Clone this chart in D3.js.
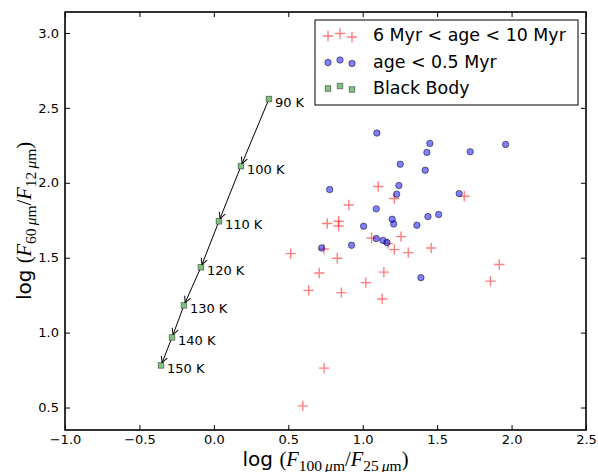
<!DOCTYPE html>
<html>
<head>
<meta charset="utf-8">
<script src="https://cdn.jsdelivr.net/npm/d3@7"></script>
<style>
  html, body { margin: 0; padding: 0; background: #fff; }
  svg { display: block; }
</style>
</head>
<body>
<svg id="chart" width="598" height="472"></svg>
<script>
// ---------------- data ----------------
const xTicks = [-1.0, -0.5, 0.0, 0.5, 1.0, 1.5, 2.0, 2.5];
const yTicks = [0.5, 1.0, 1.5, 2.0, 2.5, 3.0];

// 6 Myr < age < 10 Myr (red crosses)
const oldX = [1.104, 1.212, 1.682, 0.907, 0.762, 0.838, 0.838, 1.060, 1.257, 1.169, 1.212, 1.306, 1.460,
              0.739, 0.516, 0.829, 0.708, 1.142, 1.021, 0.637, 0.857, 1.131, 1.917, 1.858, 0.741, 0.598];
const oldY = [1.975, 1.895, 1.910, 1.852, 1.728, 1.743, 1.712, 1.632, 1.641, 1.594, 1.554, 1.534, 1.565,
              1.558, 1.527, 1.496, 1.398, 1.404, 1.334, 1.282, 1.267, 1.224, 1.455, 1.344, 0.763, 0.511];

// age < 0.5 Myr (blue circles)
const youngX = [1.095, 1.451, 1.431, 1.722, 1.960, 1.252, 1.420, 1.243, 0.778, 1.228, 1.648, 1.091,
                1.198, 1.208, 1.006, 1.438, 1.510, 1.364, 1.091, 1.136, 1.163, 0.724, 0.925, 1.391];
const youngY = [2.332, 2.263, 2.203, 2.207, 2.256, 2.124, 2.084, 1.982, 1.955, 1.924, 1.928, 1.826,
                1.757, 1.725, 1.710, 1.775, 1.788, 1.717, 1.628, 1.616, 1.601, 1.565, 1.583, 1.367];

// Black body track
const bbLabels = ["90 K", "100 K", "110 K", "120 K", "130 K", "140 K", "150 K"];
const bbX = [0.370, 0.182, 0.034, -0.087, -0.201, -0.281, -0.355];
const bbY = [2.559, 2.111, 1.743, 1.436, 1.182, 0.968, 0.781];

const legendLabels = ["6 Myr < age < 10 Myr", "age < 0.5 Myr", "Black Body"];

// ---------------- layout ----------------
const W = 598, H = 472;
const L = 65, R = 586, T = 12, B = 430;
const svg = d3.select("#chart");
const x = d3.scaleLinear().domain([-1, 2.5]).range([L, R]);
const y = d3.scaleLinear().domain([0.35, 3.14]).range([B, T]);

const fmt = d3.format(".1f");
const tickFont = "DejaVu Sans, sans-serif";

// axes
function styleAxis(g) {
  g.select(".domain").remove();
  g.selectAll(".tick line").attr("stroke", "#000").attr("stroke-width", 1);
  g.selectAll(".tick text").attr("font-family", tickFont).attr("font-size", 13).attr("fill", "#000");
}
svg.append("g").attr("transform", `translate(0,${B})`)
  .call(d3.axisBottom(x).tickValues(xTicks).tickFormat(fmt).tickSizeInner(-5).tickSizeOuter(0).tickPadding(5))
  .call(styleAxis);
svg.append("g").attr("transform", `translate(0,${T})`)
  .call(d3.axisTop(x).tickValues(xTicks).tickFormat("").tickSizeInner(-5).tickSizeOuter(0))
  .call(styleAxis);
svg.append("g").attr("transform", `translate(${L},0)`)
  .call(d3.axisLeft(y).tickValues(yTicks).tickFormat(fmt).tickSizeInner(-5).tickSizeOuter(0).tickPadding(6))
  .call(styleAxis);
svg.append("g").attr("transform", `translate(${R},0)`)
  .call(d3.axisRight(y).tickValues(yTicks).tickFormat("").tickSizeInner(-5).tickSizeOuter(0))
  .call(styleAxis);

// frame
svg.append("rect").attr("x", L).attr("y", T).attr("width", R - L).attr("height", B - T)
  .attr("fill", "none").attr("stroke", "#000").attr("stroke-width", 1.6);

// ---------------- marks ----------------
const plot = svg.append("g");
const crossPath = "M-5.2,0H5.2M0,-5.2V5.2";

function drawCross(g, cx, cy) {
  g.append("path").attr("d", crossPath).attr("transform", `translate(${cx},${cy})`)
    .attr("stroke", "red").attr("stroke-opacity", 0.5).attr("stroke-width", 1.4).attr("fill", "none");
}
function drawCircle(g, cx, cy) {
  g.append("circle").attr("cx", cx).attr("cy", cy).attr("r", 3.2)
    .attr("fill", "blue").attr("fill-opacity", 0.5)
    .attr("stroke", "#000").attr("stroke-opacity", 0.5).attr("stroke-width", 1);
}
function drawSquare(g, cx, cy) {
  g.append("rect").attr("x", cx - 2.8).attr("y", cy - 2.8).attr("width", 5.6).attr("height", 5.6)
    .attr("fill", "green").attr("fill-opacity", 0.5)
    .attr("stroke", "#000").attr("stroke-opacity", 0.5).attr("stroke-width", 0.8);
}

oldX.forEach((v, i) => drawCross(plot, x(v), y(oldY[i])));
youngX.forEach((v, i) => drawCircle(plot, x(v), y(youngY[i])));

// black body arrows
svg.append("defs").append("marker")
  .attr("id", "arr").attr("viewBox", "-8 -5 10 10").attr("refX", 0).attr("refY", 0)
  .attr("markerWidth", 10).attr("markerHeight", 10).attr("markerUnits", "userSpaceOnUse")
  .attr("orient", "auto")
  .append("path").attr("d", "M-6,-3.2L0,0L-6,3.2").attr("fill", "none").attr("stroke", "#000").attr("stroke-width", 1);

for (let i = 0; i < bbX.length - 1; i++) {
  const x0 = x(bbX[i]), y0 = y(bbY[i]), x1 = x(bbX[i + 1]), y1 = y(bbY[i + 1]);
  const dx = x1 - x0, dy = y1 - y0, len = Math.hypot(dx, dy);
  const s = 3;
  plot.append("line")
    .attr("x1", x0 + dx / len * s).attr("y1", y0 + dy / len * s)
    .attr("x2", x1 - dx / len * s).attr("y2", y1 - dy / len * s)
    .attr("stroke", "#000").attr("stroke-width", 1).attr("marker-end", "url(#arr)");
}
bbX.forEach((v, i) => drawSquare(plot, x(v), y(bbY[i])));
bbX.forEach((v, i) => {
  plot.append("text").attr("x", x(v) + 6).attr("y", y(bbY[i]) + 8)
    .attr("font-family", tickFont).attr("font-size", 13).attr("fill", "#000").text(bbLabels[i]);
});

// ---------------- legend ----------------
const lg = svg.append("g");
lg.append("rect").attr("x", 315).attr("y", 20).attr("width", 263).attr("height", 85)
  .attr("fill", "#fff").attr("stroke", "#000").attr("stroke-width", 1);
const rowY = [35, 61.5, 87.5];
const mX = [328, 340, 352];
const mOff = [1, -1.5, 2];
const drawers = [drawCross, drawCircle, drawSquare];
legendLabels.forEach((lab, i) => {
  mX.forEach((mx, j) => drawers[i](lg, mx, rowY[i] + mOff[j]));
  lg.append("text").attr("x", 373).attr("y", rowY[i]).attr("dy", "0.36em")
    .attr("font-family", tickFont).attr("font-size", 17.4).attr("fill", "#000").text(lab);
});

// ---------------- axis labels ----------------
const serif = "Liberation Serif, DejaVu Serif, serif";
function mathLabel(g, num, den) {
  const big = 20.5, sub = 15.5, sh = 4.5;
  const t = g.append("text").attr("text-anchor", "middle").attr("fill", "#000").attr("font-size", 20);
  t.append("tspan").attr("font-family", tickFont).text("log ");
  t.append("tspan").attr("font-family", serif).attr("font-size", big).text("(");
  t.append("tspan").attr("font-family", serif).attr("font-size", big).attr("font-style", "italic").text("F");
  t.append("tspan").attr("font-family", serif).attr("font-size", sub).attr("dy", sh).text(num + "\u2009");
  t.append("tspan").attr("font-family", serif).attr("font-size", sub).attr("font-style", "italic").text("\u03bc");
  t.append("tspan").attr("font-family", serif).attr("font-size", sub).text("m");
  t.append("tspan").attr("font-family", serif).attr("font-size", big).attr("dy", -sh).text("/");
  t.append("tspan").attr("font-family", serif).attr("font-size", big).attr("font-style", "italic").text("F");
  t.append("tspan").attr("font-family", serif).attr("font-size", sub).attr("dy", sh).text(den + "\u2009");
  t.append("tspan").attr("font-family", serif).attr("font-size", sub).attr("font-style", "italic").text("\u03bc");
  t.append("tspan").attr("font-family", serif).attr("font-size", sub).text("m");
  t.append("tspan").attr("font-family", serif).attr("font-size", big).attr("dy", -sh).text(")");
  return t;
}
mathLabel(svg.append("g").attr("transform", `translate(${(L + R) / 2},466)`), "100", "25");
mathLabel(svg.append("g").attr("transform", `translate(31,${(T + B) / 2}) rotate(-90)`), "60", "12");
</script>
</body>
</html>
